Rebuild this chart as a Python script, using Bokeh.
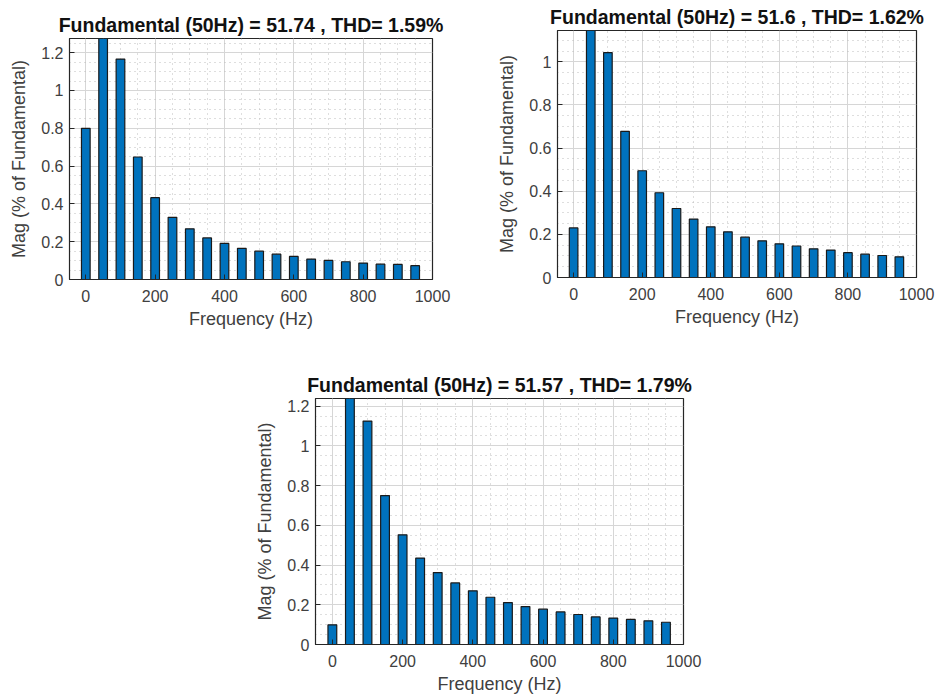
from bokeh.plotting import figure
from bokeh.layouts import column, row, Spacer
from bokeh.models import Range1d, SingleIntervalTicker, CustomJSTickFormatter
from bokeh.embed import file_html
from bokeh.resources import INLINE

# ---------------- data ----------------
freq = [0, 50, 100, 150, 200, 250, 300, 350, 400, 450, 500, 550, 600, 650, 700, 750, 800, 850, 900, 950]

mag_a = [0.80, 100.0, 1.166, 0.648, 0.433, 0.329, 0.268, 0.220, 0.191, 0.165, 0.150, 0.134, 0.122,
         0.108, 0.101, 0.094, 0.087, 0.081, 0.080, 0.073]
mag_b = [0.230, 100.0, 1.043, 0.678, 0.495, 0.393, 0.320, 0.271, 0.235, 0.212, 0.187, 0.170, 0.156,
         0.146, 0.133, 0.127, 0.115, 0.108, 0.102, 0.096]
mag_c = [0.099, 100.0, 1.125, 0.750, 0.552, 0.435, 0.362, 0.310, 0.270, 0.238, 0.211, 0.191, 0.178,
         0.164, 0.151, 0.139, 0.133, 0.126, 0.119, 0.112]

titles = ["Fundamental (50Hz) = 51.74 , THD= 1.59%",
          "Fundamental (50Hz) = 51.6 , THD= 1.62%",
          "Fundamental (50Hz) = 51.57 , THD= 1.79%"]
x_label = "Frequency (Hz)"
y_label = "Mag (% of Fundamental)"

FONT = "Liberation Sans"
BAR_COLOR = "#0072BD"
TXT = "#404040"
AX = "#262626"


def make_panel(mag, title, xr, yr, fw, fh, left, right, top, bottom):
    p = figure(frame_width=fw, frame_height=fh, output_backend="svg", toolbar_location=None,
               x_range=Range1d(*xr), y_range=Range1d(*yr),
               min_border_left=left, min_border_right=right,
               min_border_top=top, min_border_bottom=bottom,
               x_axis_label=x_label, y_axis_label=y_label)
    p.title.text = title
    p.title.align = "center"
    p.title.text_font = FONT
    p.title.text_font_size = "19.5px"
    p.title.text_font_style = "bold"
    p.title.text_color = "#111111"
    p.title.standoff = 6

    p.vbar(x=freq, top=mag, width=25, bottom=0, fill_color=BAR_COLOR,
           line_color="#1a1a1a", line_width=1.2)

    xt = SingleIntervalTicker(interval=200, num_minor_ticks=4)
    yt = SingleIntervalTicker(interval=0.2, num_minor_ticks=4)
    p.xaxis.ticker = xt
    p.yaxis.ticker = yt
    p.xgrid.ticker = xt
    p.ygrid.ticker = yt
    p.yaxis.formatter = CustomJSTickFormatter(code="return String(Math.round(tick*100)/100);")
    p.xaxis.formatter = CustomJSTickFormatter(code="return String(Math.round(tick));")

    for ax in (p.xaxis[0], p.yaxis[0]):
        ax.axis_line_color = AX
        ax.major_tick_in = 5
        ax.major_tick_out = 0
        ax.major_tick_line_color = AX
        ax.minor_tick_in = 0
        ax.minor_tick_out = 0
        ax.major_label_text_font = FONT
        ax.major_label_text_font_size = "16px"
        ax.major_label_text_color = TXT
        ax.axis_label_text_font = FONT
        ax.axis_label_text_font_size = "18px"
        ax.axis_label_text_font_style = "normal"
        ax.axis_label_text_color = TXT
    p.xaxis.major_label_standoff = 10
    p.xaxis.axis_label_standoff = 4
    p.yaxis.major_label_standoff = 6
    p.yaxis.axis_label_standoff = 9

    for g in (p.xgrid[0], p.ygrid[0]):
        g.grid_line_color = "#d6d6d6"
        g.grid_line_width = 1
        g.minor_grid_line_color = "#bdbdbd"
        g.minor_grid_line_dash = "1 4"
        g.minor_grid_line_width = 1

    p.outline_line_color = AX
    p.outline_line_width = 1.2
    p.background_fill_color = "white"
    p.border_fill_color = "white"
    return p


p1 = make_panel(mag_a, titles[0], (-47, 1000), (0, 1.275), 363, 241, 69, 38, 30, 61)
p2 = make_panel(mag_b, titles[1], (-47, 1000), (0, 1.1455), 359, 247, 87, 24, 30, 63)
p3 = make_panel(mag_c, titles[2], (-48, 1000), (0, 1.2386), 368, 246, 75, 20, 58, 52)

top_row = row(column(Spacer(width=470, height=8), p1, spacing=0), column(p2, spacing=0), spacing=0)
bottom_row = row(Spacer(width=240, height=10), column(p3, spacing=0), spacing=0)
layout = column(top_row, bottom_row, spacing=0)

open("out.html", "w").write(file_html(layout, INLINE))
